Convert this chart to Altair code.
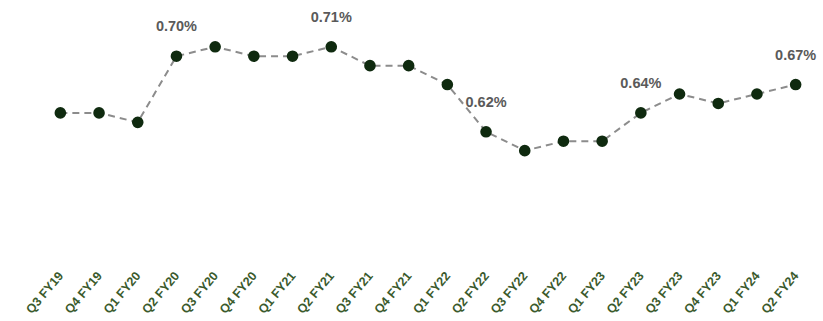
import altair as alt
import pandas as pd

quarters = ["Q3 FY19", "Q4 FY19", "Q1 FY20", "Q2 FY20", "Q3 FY20", "Q4 FY20",
            "Q1 FY21", "Q2 FY21", "Q3 FY21", "Q4 FY21", "Q1 FY22", "Q2 FY22",
            "Q3 FY22", "Q4 FY22", "Q1 FY23", "Q2 FY23", "Q3 FY23", "Q4 FY23",
            "Q1 FY24", "Q2 FY24"]
values = [0.64, 0.64, 0.63, 0.70, 0.71, 0.70, 0.70, 0.71, 0.69, 0.69, 0.67, 0.62,
          0.60, 0.61, 0.61, 0.64, 0.66, 0.65, 0.66, 0.67]
label_quarters = ["Q2 FY20", "Q2 FY21", "Q2 FY22", "Q2 FY23", "Q2 FY24"]

df = pd.DataFrame({"q": quarters, "v": values})
df["lbl"] = [f"{v:.2f}%" if q in label_quarters else "" for q, v in zip(quarters, values)]

x = alt.X("q:N", sort=quarters, title=None,
          scale=alt.Scale(type="point", padding=0.5),
          axis=alt.Axis(labelAngle=-50, labelFontSize=12.5, labelFontWeight="bold",
                        labelColor="#3a5a2c", labelFont="Arial", domain=False,
                        ticks=False, labelPadding=9, grid=False))
y = alt.Y("v:Q", title=None, scale=alt.Scale(domain=[0.48, 0.75], zero=False, nice=False),
          axis=None)

base = alt.Chart(df).encode(x=x, y=y)

line = base.mark_line(color="#8c8c8c", strokeWidth=2, strokeDash=[7, 5])
pts = base.mark_circle(size=135, color="#0f2a0f", opacity=1)
txt = base.mark_text(dy=-29, fontSize=14.5, fontWeight="bold", color="#5a5a5a",
                     font="Arial").encode(text="lbl:N")

chart = (line + pts + txt).properties(
    width=774, height=255,
    background="white",
    autosize=alt.AutoSizeParams(type="none"),
    padding={"left": 41, "top": 9, "right": 8, "bottom": 57},
).configure_view(strokeWidth=0, stroke="transparent")

chart.save("out.html", embed_options={"renderer": "svg", "actions": False})
